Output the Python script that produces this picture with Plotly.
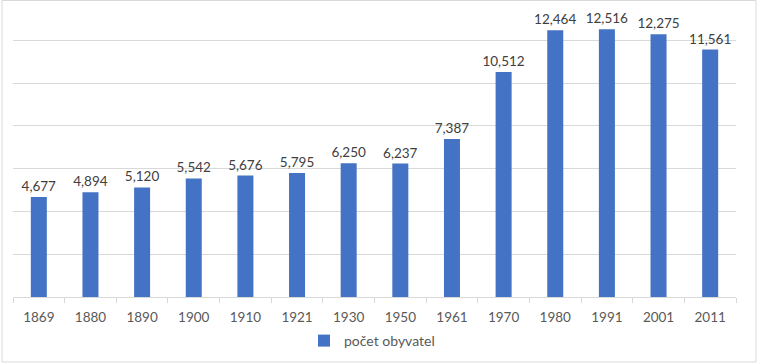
import plotly.graph_objects as go

years = ["1869", "1880", "1890", "1900", "1910", "1921", "1930", "1950", "1961", "1970", "1980", "1991", "2001", "2011"]
population = [4677, 4894, 5120, 5542, 5676, 5795, 6250, 6237, 7387, 10512, 12464, 12516, 12275, 11561]
series_name = "počet obyvatel"
tick_values = [0, 2000, 4000, 6000, 8000, 10000, 12000]

W, H = 758, 363
L, R, T, B = 13, 22, 0, 66
pw = W - L - R
ph = H - T - B

def px_x(x):
    return (x - L) / pw

def px_y(y):
    return (H - B - y) / ph

fig = go.Figure()
fig.add_trace(go.Bar(
    x=years, y=population, name=series_name,
    marker=dict(color="#4472C4", line=dict(width=0)),
    width=0.31,
    text=[f"{v:,}" for v in population],
    textposition="outside",
    constraintext="none",
    textfont=dict(family="Lato", size=13.5, color="#404040"),
    cliponaxis=False,
    showlegend=True,
))

fig.update_layout(
    width=W, height=H,
    margin=dict(l=L, r=R, t=T, b=B, autoexpand=False),
    paper_bgcolor="white", plot_bgcolor="white",
    font=dict(family="Lato", size=13, color="#595959"),
    showlegend=True,
    legend=dict(orientation="h", x=px_x(372), xanchor="center", y=px_y(341), yanchor="middle",
                font=dict(family="Lato", size=14, color="#595959"),
                itemwidth=30, bgcolor="rgba(0,0,0,0)"),
    xaxis=dict(type="category", showgrid=False, showline=True, linecolor="#D9D9D9", linewidth=1,
               ticks="outside", tickson="boundaries", ticklen=5, tickcolor="#D9D9D9",
               ticklabelstandoff=8, automargin=False,
               tickfont=dict(family="Lato", size=13.5, color="#595959"), fixedrange=True),
    yaxis=dict(range=[0, ph / 42.8 * 2000], tickvals=tick_values, showticklabels=False,
               showgrid=True, gridcolor="#D9D9D9", gridwidth=1, zeroline=False, showline=False,
               automargin=False, fixedrange=True),
    shapes=[dict(type="rect", xref="paper", yref="paper",
                 x0=px_x(2), x1=px_x(756), y0=px_y(362), y1=px_y(0.5),
                 line=dict(color="#D9D9D9", width=1), fillcolor="rgba(0,0,0,0)", layer="below")],
)

fig.write_html("out.html", config={"displayModeBar": False},
               post_script="document.body.style.margin='0';document.body.style.overflow='hidden';")
